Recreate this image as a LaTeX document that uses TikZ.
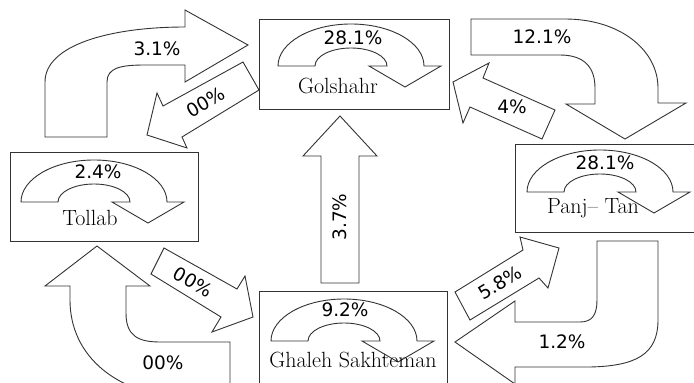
\documentclass[tikz,border=0pt]{standalone}
\usepackage{fontspec}
\newfontfamily\pctfont{DejaVu Sans}
\tikzset{
  ln/.style={draw=black!80, line width=0.9pt, fill=white, line join=miter},
  box/.style={draw=black!80, line width=0.9pt},
  pct/.style={font=\pctfont\fontsize{18.5}{20}\selectfont, inner sep=0pt},
  nm/.style={font=\fontsize{22}{24}\selectfont, inner sep=0pt},
  pics/uturn/.style={code={
    \draw[ln] (-73,0) -- (-36,0)
      arc[start angle=180, end angle=360, x radius=36, y radius=18]
      -- (18,0) -- (54,21) -- (90,0) -- (73,0)
      arc[start angle=0, end angle=-180, x radius=73, y radius=42] -- cycle;
  }}
}
\begin{document}
\begin{tikzpicture}[x=1pt, y=-1pt]
  \clip (0,0) rectangle (694,383);
  \fill[white] (0,0) rectangle (694,383);

  % boxes
  \draw[box] (259,19) rectangle (449,109);
  \draw[box] (10,152) rectangle (198,241);
  \draw[box] (259,291) rectangle (447,400);
  \draw[box] (515,144) rectangle (720,232);

  % self-loop arrows
  \pic at (351,66) {uturn};
  \pic at (94,202) {uturn};
  \pic at (344,341) {uturn};
  \pic at (600,192) {uturn};

  \node[pct] (gp) at (353,38) {28.1\%};
  \node[nm]  (gn) at (338,86) {Golshahr};
  \node[pct] (tp) at (98,172) {2.4\%};
  \node[nm]  (tn) at (90,218) {Tollab};
  \node[pct] (sp) at (345,310) {9.2\%};
  \node[nm]  (sn) at (353,360) {Ghaleh Sakhteman};
  \node[pct] (pp) at (605,163) {28.1\%};
  \node[nm]  (pn) at (593,208) {Panj– Tan};

  % 3.1% bent arrow Tollab -> Golshahr
  \draw[ln] (45,137) -- (45,82) .. controls (45,45) and (110,27) .. (185,27)
    -- (185,10) -- (248,45) -- (185,82) -- (185,65) -- (145,65)
    .. controls (120,65) and (107,68) .. (107,82) -- (107,137) -- cycle;
  \node[pct] (a1) at (157,49) {3.1\%};

  % 00% Golshahr -> Tollab
  \draw[ln] (243,62) -- (163,106) -- (157,93) -- (147,135) -- (187,148)
    -- (182,137) -- (259,90) -- cycle;
  \node[pct, rotate=30] (a2) at (206,102) {00\%};

  % 12.1% Golshahr -> Panj-Tan
  \draw[ln] (471,19) -- (565,19) .. controls (620,19) and (658,50) .. (658,88)
    -- (658,103) -- (686,103) -- (625,139) -- (566,104) -- (595,104) -- (595,88)
    .. controls (595,68) and (585,55) .. (560,55) -- (471,55) -- cycle;
  \node[pct] (a3) at (542,37) {12.1\%};

  % 4% Panj-Tan -> Golshahr
  \draw[ln] (453,82) -- (489,63) -- (483,78) -- (555,110) -- (542,139)
    -- (470,107) -- (463,123) -- cycle;
  \node[pct] (a4) at (512,107) {4\%};

  % 3.7% Ghaleh -> Golshahr
  \draw[ln] (321,283) -- (321,156) -- (303,156) -- (340,116) -- (377,156)
    -- (359,156) -- (359,283) -- cycle;
  \node[pct, rotate=90] (a5) at (340,217) {3.7\%};

  % 00% Tollab -> Ghaleh
  \draw[ln] (164,248) -- (237,289) -- (245,276) -- (253,317) -- (212,332)
    -- (221,317) -- (151,274) -- cycle;
  \node[pct, rotate=-30] (a6) at (193,282) {00\%};

  % 00% Ghaleh -> Tollab (bent, from below)
  \draw[ln] (97,246) -- (150,286) -- (126,286) -- (126,313)
    .. controls (126,335) and (137,342) .. (160,342) -- (230,342) -- (230,400)
    -- (200,400) .. controls (115,398) and (70,355) .. (70,300) -- (70,286)
    -- (45,286) -- cycle;
  \node[pct] (a7) at (163,363) {00\%};

  % 5.8% Ghaleh -> Panj-Tan
  \draw[ln] (455,292) -- (523,250) -- (520,237) -- (559,248) -- (548,288)
    -- (539,278) -- (470,320) -- cycle;
  \node[pct, rotate=31] (a8) at (500,283) {5.8\%};

  % 1.2% Panj-Tan -> Ghaleh
  \draw[ln] (597,241) -- (658,241) -- (658,320)
    .. controls (658,355) and (635,366) .. (590,367) -- (515,367) -- (515,384)
    -- (455,342) -- (515,301) -- (515,322) -- (580,322)
    .. controls (592,322) and (597,315) .. (597,300) -- cycle;
  \node[pct] (a9) at (562,342) {1.2\%};
\end{tikzpicture}
\end{document}
